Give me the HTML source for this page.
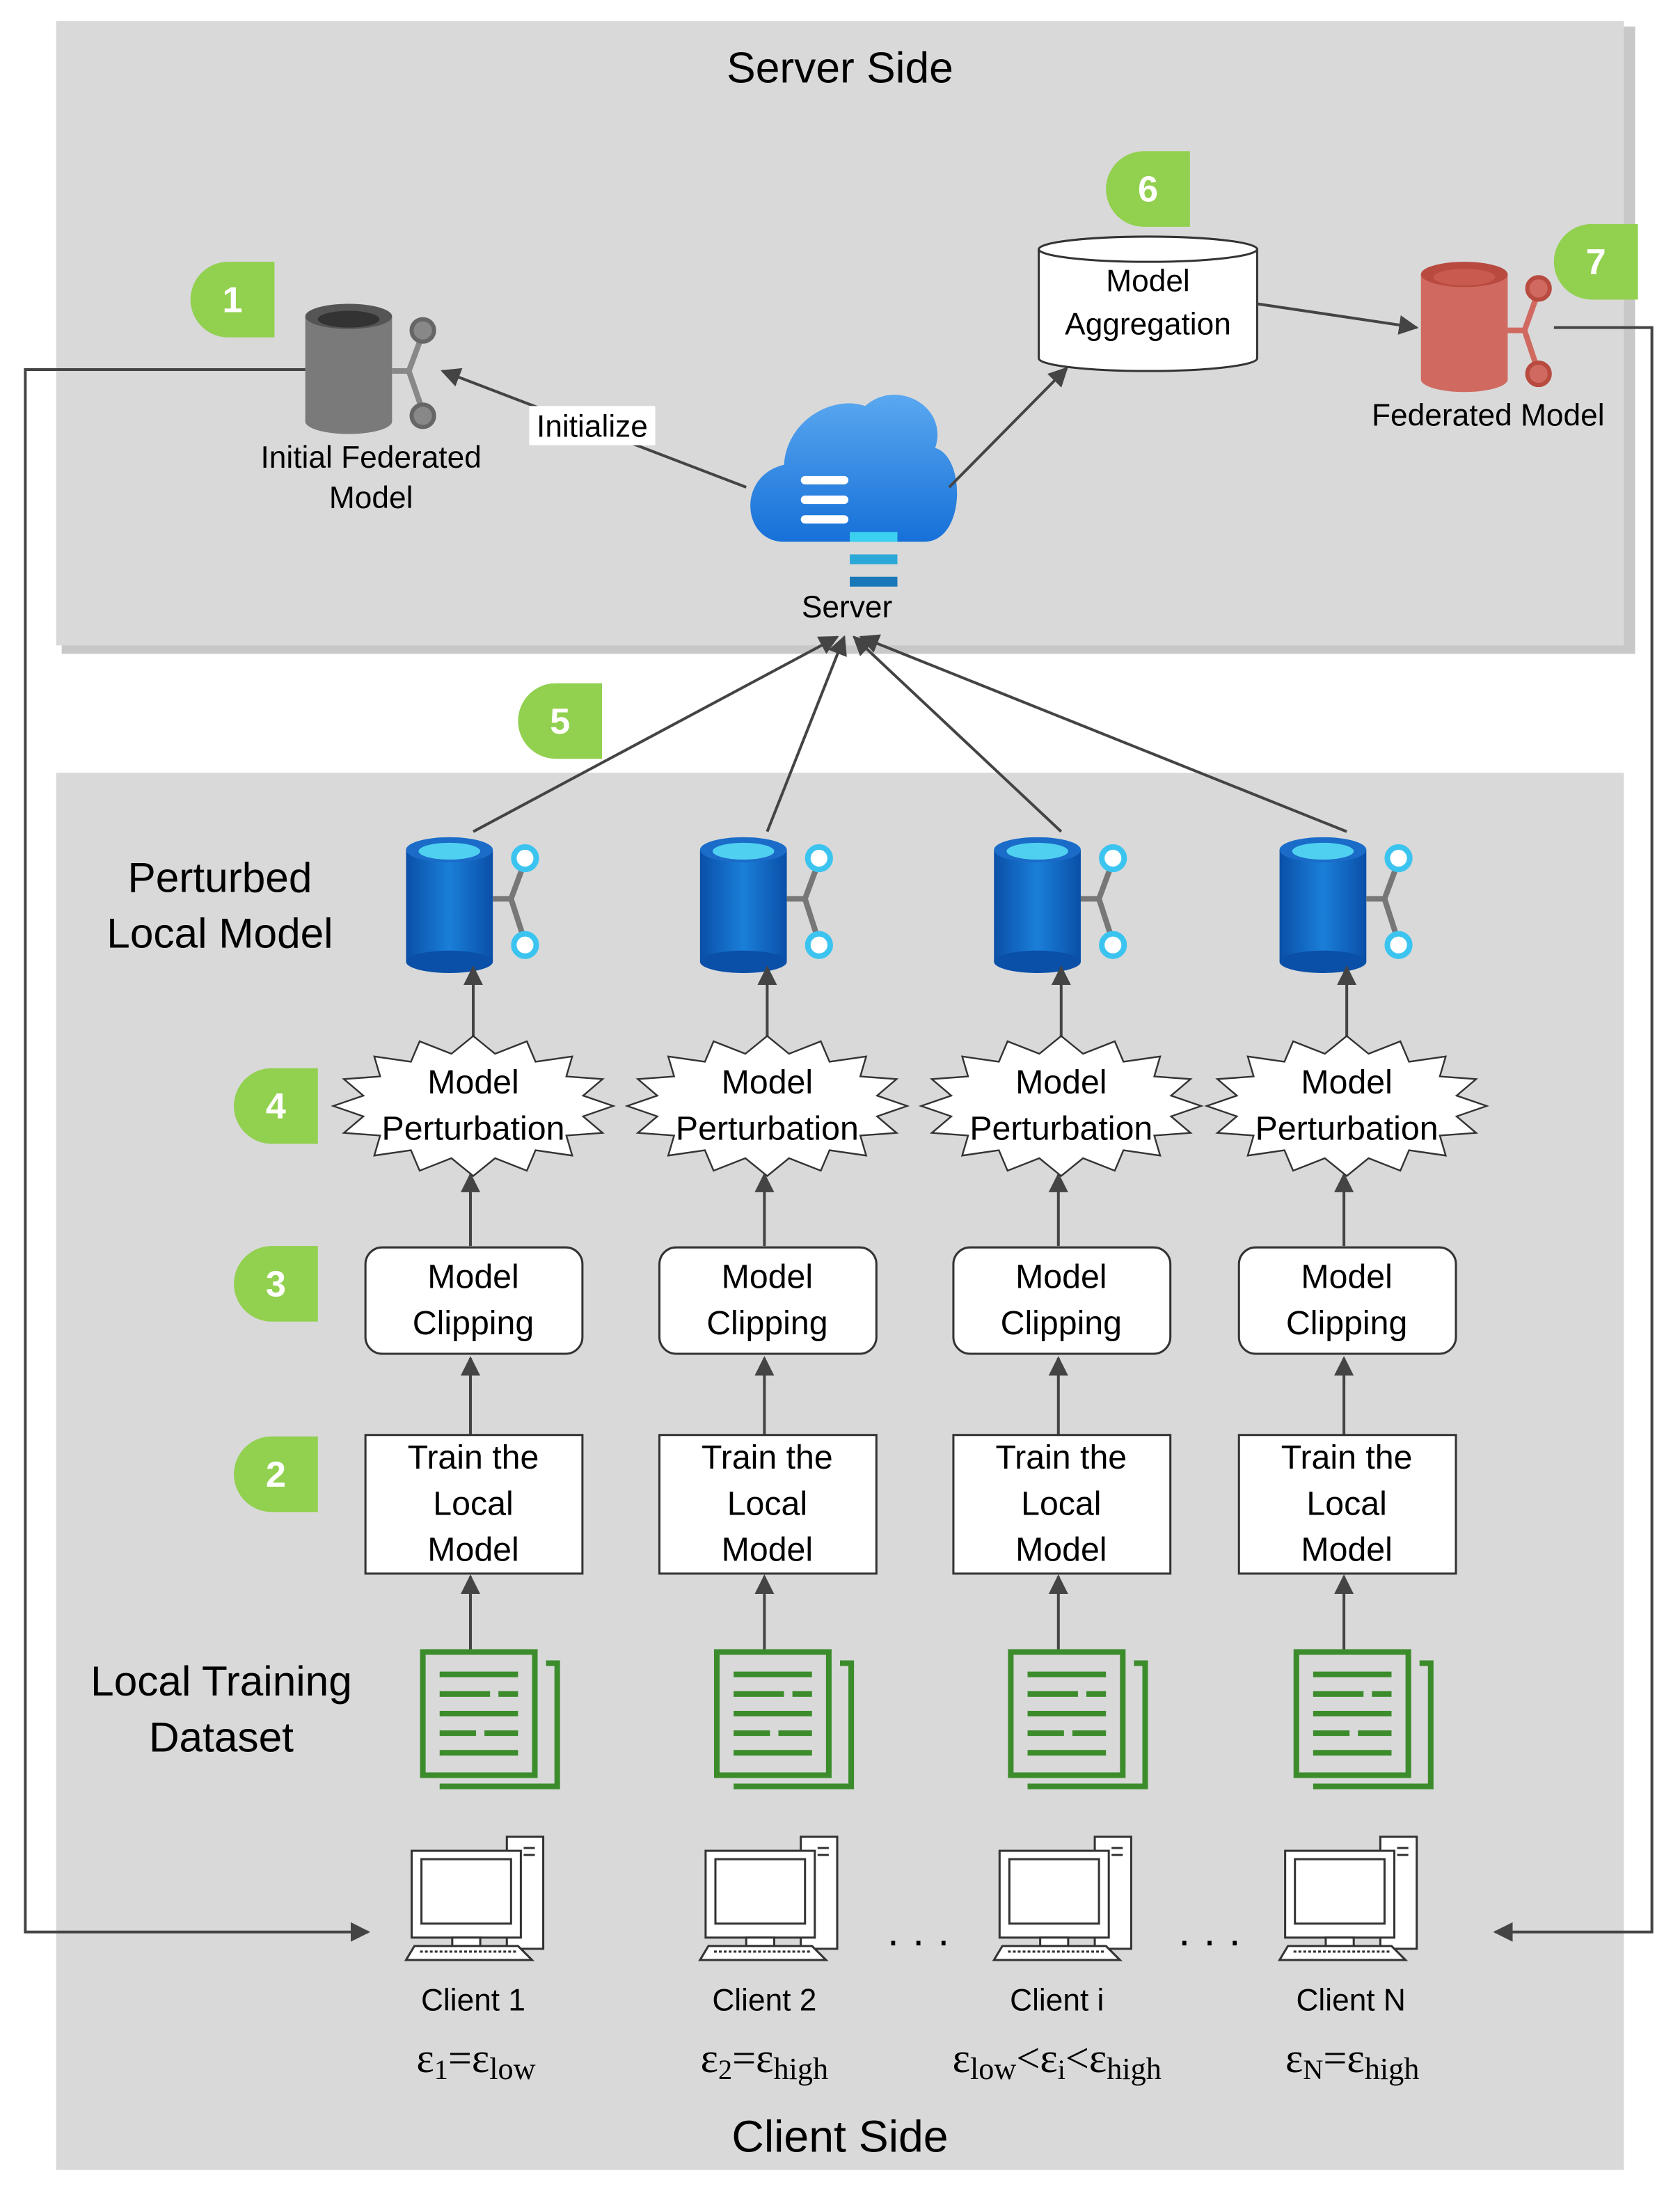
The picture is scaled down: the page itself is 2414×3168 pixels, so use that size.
<!DOCTYPE html>
<html><head><meta charset="utf-8"><style>
html,body{margin:0;padding:0;background:#fff}
svg{display:block}
text{font-family:"Liberation Sans",sans-serif;fill:#000}
text.serif{font-family:"Liberation Serif","DejaVu Serif",serif}
</style></head><body>
<svg width="2414" height="3168" viewBox="0 0 1200 1575" xmlns="http://www.w3.org/2000/svg">
<defs>
<marker id="ar" viewBox="0 0 10 10" refX="9" refY="5" markerWidth="7" markerHeight="7" orient="auto-start-reverse"><path d="M0,0 L10,5 L0,10 z" fill="#444"/></marker>
<polygon id="star" points="100,0 78.5,7.4 92.4,19.2 66.5,21.1 70.7,35.4 44.5,31.6 38.3,46.2 15.6,37.3 0,50 -15.6,37.3 -38.3,46.2 -44.5,31.6 -70.7,35.4 -66.5,21.1 -92.4,19.2 -78.5,7.4 -100,0 -78.5,-7.4 -92.4,-19.2 -66.5,-21.1 -70.7,-35.4 -44.5,-31.6 -38.3,-46.2 -15.6,-37.3 0,-50 15.6,-37.3 38.3,-46.2 44.5,-31.6 70.7,-35.4 66.5,-21.1 92.4,-19.2 78.5,-7.4" fill="#fff" stroke="#333" stroke-width="1.2"/>
<linearGradient id="bl" x1="0" x2="1"><stop offset="0" stop-color="#0a4fa8"/><stop offset="0.5" stop-color="#1a7fd8"/><stop offset="1" stop-color="#0a4fa8"/></linearGradient>
<linearGradient id="cl" x1="0" y1="0" x2="0" y2="1"><stop offset="0" stop-color="#5aa8f0"/><stop offset="1" stop-color="#1670d8"/></linearGradient>
<g id="badge"><path d="M0,27 A27,27 0 0 1 27,0 L60,0 L60,54 L27,54 A27,27 0 0 1 0,27 z" fill="#92d050"/></g>
<g id="pcyl">
<rect x="0" y="10" width="62" height="80" fill="url(#bl)"/>
<ellipse cx="31" cy="90" rx="31" ry="8" fill="#0a4fa8"/>
<ellipse cx="31" cy="10" rx="31" ry="9" fill="#1a6cc8"/>
<ellipse cx="31" cy="11" rx="22" ry="6" fill="#4fd0f0"/>
<path d="M62,45 L75,45 L85,18 M75,45 L85,76" stroke="#777" stroke-width="4" fill="none"/>
<circle cx="85" cy="16" r="8" fill="#fff" stroke="#3cc4f0" stroke-width="4"/>
<circle cx="85" cy="78" r="8" fill="#fff" stroke="#3cc4f0" stroke-width="4"/>
</g>
<g id="doc" fill="none" stroke="#3c8c2c" stroke-width="4">
<path d="M14,98 L98,98 L98,10 L90,10"/>
<rect x="2" y="2" width="80" height="88"/>
<path d="M14,18 L70,18 M14,32 L50,32 M56,32 L70,32 M14,46 L70,46 M14,60 L40,60 M46,60 L70,60 M14,74 L70,74"/>
</g>
<g id="pc" stroke="#333" stroke-width="1.5" fill="#fff">
<rect x="72" y="2" width="26" height="80"/>
<path d="M84,10 h8 M84,15 h8" />
<rect x="4" y="12" width="78" height="62"/>
<rect x="11" y="18" width="64" height="46" fill="#fff"/>
<rect x="33" y="74" width="20" height="6"/>
<path d="M6,80 L80,80 L90,90 L0,90 z"/>
<path d="M10,84 h70" stroke-dasharray="2,1.5"/>
</g>
</defs>

<rect x="44" y="19" width="1124" height="448" fill="#c8c8c8"/>
<rect x="40" y="15" width="1120" height="446" fill="#d9d9d9"/>
<rect x="40" y="552" width="1120" height="998" fill="#d9d9d9"/>

<text x="600" y="59" font-size="31" text-anchor="middle">Server Side</text>
<text x="600" y="1537" font-size="32" text-anchor="middle">Client Side</text>

<path d="M218,264 L18,264 L18,1380 L263,1380" fill="none" stroke="#444" stroke-width="2" marker-end="url(#ar)"/>
<path d="M1110,234 L1180,234 L1180,1380 L1068,1380" fill="none" stroke="#444" stroke-width="2" marker-end="url(#ar)"/>

<rect x="218" y="226" width="62" height="75" fill="#7a7a7a"/>
<ellipse cx="249" cy="301" rx="31" ry="9" fill="#7a7a7a"/>
<ellipse cx="249" cy="226" rx="31" ry="9" fill="#555"/>
<ellipse cx="249" cy="228" rx="22" ry="6" fill="#333"/>
<path d="M280,265 L292,265 L302,238 M292,265 L302,294" stroke="#888" stroke-width="4" fill="none"/>
<circle cx="302" cy="236" r="8" fill="#888" stroke="#666" stroke-width="3"/>
<circle cx="302" cy="297" r="8" fill="#888" stroke="#666" stroke-width="3"/>
<text x="265" y="334" font-size="22" text-anchor="middle">Initial Federated</text>
<text x="265" y="363" font-size="22" text-anchor="middle">Model</text>

<line x1="533" y1="348" x2="316" y2="265" stroke="#444" stroke-width="2" marker-end="url(#ar)"/>
<rect x="378" y="290" width="90" height="28" fill="#fff"/>
<text x="423" y="312" font-size="22" text-anchor="middle">Initialize</text>

<path d="M560,387 C530,387 526,340 560,332 C562,300 595,282 618,290 C640,270 678,290 668,320 C690,326 690,387 660,387 z" fill="url(#cl)"/>
<g stroke="#fff" stroke-width="6" stroke-linecap="round"><line x1="575" y1="343" x2="603" y2="343"/><line x1="575" y1="357" x2="603" y2="357"/><line x1="575" y1="371" x2="603" y2="371"/></g>
<rect x="607" y="380" width="34" height="7" fill="#3cd0f0"/>
<rect x="607" y="396" width="34" height="7" fill="#2aa8d8"/>
<rect x="607" y="412" width="34" height="7" fill="#1a78b8"/>
<text x="605" y="441" font-size="22" text-anchor="middle">Server</text>

<line x1="678" y1="348" x2="762" y2="263" stroke="#444" stroke-width="2" marker-end="url(#ar)"/>
<path d="M742,178 L742,256 A78,9 0 0 0 898,256 L898,178" fill="#fff" stroke="#333" stroke-width="1.5"/>
<ellipse cx="820" cy="178" rx="78" ry="9" fill="#fff" stroke="#333" stroke-width="1.5"/>
<text x="820" y="208" font-size="22" text-anchor="middle">Model</text>
<text x="820" y="239" font-size="22" text-anchor="middle">Aggregation</text>
<line x1="898" y1="217" x2="1012" y2="234" stroke="#444" stroke-width="2" marker-end="url(#ar)"/>

<rect x="1015" y="196" width="62" height="75" fill="#d06a60"/>
<ellipse cx="1046" cy="271" rx="31" ry="9" fill="#d06a60"/>
<ellipse cx="1046" cy="196" rx="31" ry="9" fill="#b84a40"/>
<ellipse cx="1046" cy="198" rx="22" ry="6" fill="#c85a50"/>
<path d="M1077,236 L1089,236 L1099,208 M1089,236 L1099,266" stroke="#d06a60" stroke-width="4" fill="none"/>
<circle cx="1099" cy="206" r="8" fill="#d06a60" stroke="#b84a40" stroke-width="3"/>
<circle cx="1099" cy="267" r="8" fill="#d06a60" stroke="#b84a40" stroke-width="3"/>
<text x="1063" y="304" font-size="22" text-anchor="middle">Federated Model</text>

<use href="#badge" x="136" y="187"/><text x="166" y="223" font-size="26" font-weight="bold" text-anchor="middle" style="fill:#fff">1</text>
<use href="#badge" x="790" y="108"/><text x="820" y="144" font-size="26" font-weight="bold" text-anchor="middle" style="fill:#fff">6</text>
<use href="#badge" x="1110" y="160"/><text x="1140" y="196" font-size="26" font-weight="bold" text-anchor="middle" style="fill:#fff">7</text>
<use href="#badge" x="370" y="488"/><text x="400" y="524" font-size="26" font-weight="bold" text-anchor="middle" style="fill:#fff">5</text>
<use href="#badge" x="167" y="763"/><text x="197" y="799" font-size="26" font-weight="bold" text-anchor="middle" style="fill:#fff">4</text>
<use href="#badge" x="167" y="890"/><text x="197" y="926" font-size="26" font-weight="bold" text-anchor="middle" style="fill:#fff">3</text>
<use href="#badge" x="167" y="1026"/><text x="197" y="1062" font-size="26" font-weight="bold" text-anchor="middle" style="fill:#fff">2</text>

<g stroke="#444" stroke-width="2" marker-end="url(#ar)">
<line x1="338" y1="594" x2="598" y2="455"/>
<line x1="548" y1="594" x2="603" y2="455"/>
<line x1="758" y1="594" x2="610" y2="455"/>
<line x1="962" y1="594" x2="615" y2="455"/>
</g>

<text x="157" y="637" font-size="30" text-anchor="middle">Perturbed</text>
<text x="157" y="677" font-size="30" text-anchor="middle">Local Model</text>
<text x="158" y="1211" font-size="30" text-anchor="middle">Local Training</text>
<text x="158" y="1251" font-size="30" text-anchor="middle">Dataset</text>

<g id="col">
<use href="#pcyl" x="290" y="597"/>
<g stroke="#444" stroke-width="2" marker-end="url(#ar)">
<line x1="338" y1="742" x2="338" y2="691"/>
<line x1="336" y1="890" x2="336" y2="839"/>
<line x1="336" y1="1025" x2="336" y2="970"/>
<line x1="336" y1="1178" x2="336" y2="1126"/>
</g>
<use href="#star" x="338" y="790"/>
<text x="338" y="781" font-size="24" text-anchor="middle">Model</text>
<text x="338" y="814" font-size="24" text-anchor="middle">Perturbation</text>
<rect x="261" y="891" width="155" height="76" rx="12" fill="#fff" stroke="#333" stroke-width="1.5"/>
<text x="338" y="920" font-size="24" text-anchor="middle">Model</text>
<text x="338" y="953" font-size="24" text-anchor="middle">Clipping</text>
<rect x="261" y="1025" width="155" height="99" fill="#fff" stroke="#333" stroke-width="1.5"/>
<text x="338" y="1049" font-size="24" text-anchor="middle">Train the</text>
<text x="338" y="1082" font-size="24" text-anchor="middle">Local</text>
<text x="338" y="1115" font-size="24" text-anchor="middle">Model</text>
<use href="#doc" x="300" y="1178"/>
<use href="#pc" x="290" y="1310"/>
</g>
<use href="#col" x="210"/>
<use href="#col" x="420"/>
<use href="#col" x="624"/>

<text x="660" y="1396" font-size="30" text-anchor="middle" letter-spacing="8">···</text>
<text x="868" y="1396" font-size="30" text-anchor="middle" letter-spacing="8">···</text>

<g font-size="22" text-anchor="middle">
<text x="338" y="1436">Client 1</text>
<text x="546" y="1436">Client 2</text>
<text x="755" y="1436">Client i</text>
<text x="965" y="1436">Client N</text>
</g>
<g font-size="30" text-anchor="middle">
<text class="serif" x="340" y="1480">ε<tspan font-size="20" dy="5">1</tspan><tspan dy="-5">=ε</tspan><tspan font-size="22" dy="5">low</tspan></text>
<text class="serif" x="546" y="1480">ε<tspan font-size="20" dy="5">2</tspan><tspan dy="-5">=ε</tspan><tspan font-size="22" dy="5">high</tspan></text>
<text class="serif" x="755" y="1480">ε<tspan font-size="22" dy="5">low</tspan><tspan dy="-5">&lt;ε</tspan><tspan font-size="20" dy="5">i</tspan><tspan dy="-5">&lt;ε</tspan><tspan font-size="22" dy="5">high</tspan></text>
<text class="serif" x="966" y="1480">ε<tspan font-size="20" dy="5">N</tspan><tspan dy="-5">=ε</tspan><tspan font-size="22" dy="5">high</tspan></text>
</g>
</svg>
</body></html>
